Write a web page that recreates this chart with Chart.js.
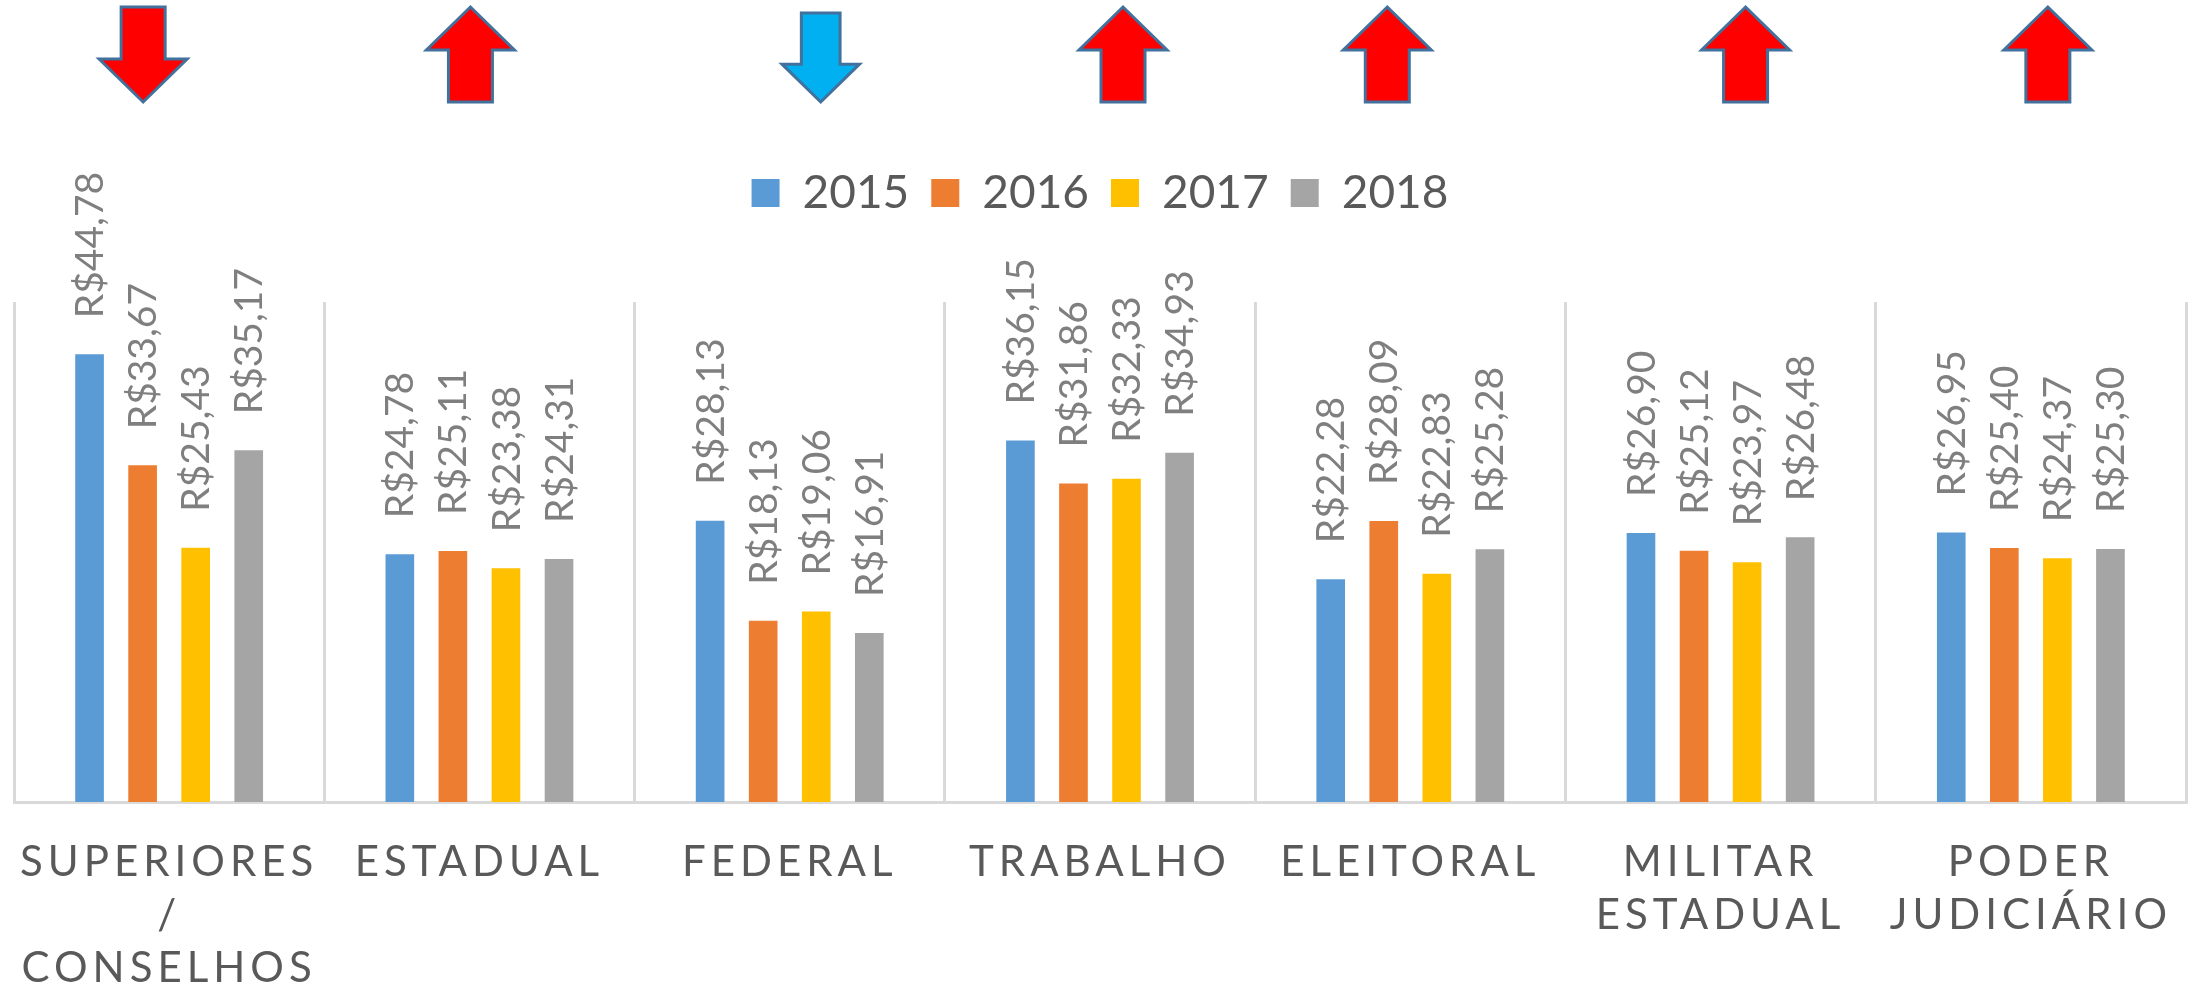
<!DOCTYPE html>
<html>
<head>
<meta charset="utf-8">
<script src="https://cdn.jsdelivr.net/npm/chart.js@4.4.0/dist/chart.umd.min.js"></script>
<style>
    body { margin: 0; background: #fff; }
    #wrap { width: 2200px; height: 983px; }
</style>
</head>
<body>
<div id="wrap"><canvas id="grafico"></canvas></div>
<script>
const categorias = [['SUPERIORES', '/', 'CONSELHOS'], ['ESTADUAL'], ['FEDERAL'], ['TRABALHO'], ['ELEITORAL'], ['MILITAR', 'ESTADUAL'], ['PODER', 'JUDICIÁRIO']];
const anos = ['2015', '2016', '2017', '2018'];
const valores2015 = [44.78, 24.78, 28.13, 36.15, 22.28, 26.90, 26.95];
const valores2016 = [33.67, 25.11, 18.13, 31.86, 28.09, 25.12, 25.40];
const valores2017 = [25.43, 23.38, 19.06, 32.33, 22.83, 23.97, 24.37];
const valores2018 = [35.17, 24.31, 16.91, 34.93, 25.28, 26.48, 25.30];
const setas = ['baixo', 'cima', 'baixo', 'cima', 'cima', 'cima', 'cima'];
const corSetas = ['#FF0000', '#FF0000', '#00B0F0', '#FF0000', '#FF0000', '#FF0000', '#FF0000'];

const cores = ['#5B9BD5', '#ED7D31', '#FFC000', '#A5A5A5'];
// as setas foram coladas a mao, nao ficam bem no centro da categoria
const desvioSetas = [-26, -9, 31, 23, -23, 25, 17];
const escalaSetas = [1, 1, 0.88, 1, 1, 1, 1];

function desenhaSeta(ctx, cx, dir, cor, k) {
    const topo = 7 + (1 - k) * 50, base = 102;
    const larg = 88 * k / 2, haste = 44 * k / 2, cab = 43 * k;
    ctx.beginPath();
    if (dir === 'cima') {
        ctx.moveTo(cx, topo);
        ctx.lineTo(cx + larg, topo + cab);
        ctx.lineTo(cx + haste, topo + cab);
        ctx.lineTo(cx + haste, base);
        ctx.lineTo(cx - haste, base);
        ctx.lineTo(cx - haste, topo + cab);
        ctx.lineTo(cx - larg, topo + cab);
    } else {
        ctx.moveTo(cx, base);
        ctx.lineTo(cx + larg, base - cab);
        ctx.lineTo(cx + haste, base - cab);
        ctx.lineTo(cx + haste, topo);
        ctx.lineTo(cx - haste, topo);
        ctx.lineTo(cx - haste, base - cab);
        ctx.lineTo(cx - larg, base - cab);
    }
    ctx.closePath();
    ctx.fillStyle = cor;
    ctx.fill();
    ctx.lineWidth = 3;
    ctx.strokeStyle = '#41719C';
    ctx.stroke();
}

const extras = {
    id: 'extras',
    afterDatasetsDraw(chart) {
        const ctx = chart.ctx;
        ctx.save();
        ctx.font = '39px Lato';
        ctx.fillStyle = '#7F7F7F';
        ctx.textAlign = 'left';
        ctx.textBaseline = 'middle';
        chart.data.datasets.forEach((ds, i) => {
            chart.getDatasetMeta(i).data.forEach((bar, j) => {
                const txt = 'R$' + ds.data[j].toFixed(2).replace('.', ',');
                ctx.save();
                ctx.translate(bar.x + 1, bar.y - 36);
                ctx.rotate(-Math.PI / 2);
                ctx.fillText(txt, 0, 0);
                ctx.restore();
            });
        });
        ctx.restore();
        // rotulos do eixo x vem depois (ticks z: 1), com letras espacadas
        ctx.letterSpacing = '5px';
    },
    afterDraw(chart) {
        const ctx = chart.ctx;
        ctx.letterSpacing = '0px';
        const x = chart.scales.x;
        ctx.save();
        setas.forEach((dir, i) => {
            desenhaSeta(ctx, x.getPixelForValue(i) + desvioSetas[i], dir, corSetas[i], escalaSetas[i]);
        });
        ctx.restore();
    }
};

const dados = {
    labels: categorias,
    datasets: [
        { label: anos[0], data: valores2015, backgroundColor: cores[0] },
        { label: anos[1], data: valores2016, backgroundColor: cores[1] },
        { label: anos[2], data: valores2017, backgroundColor: cores[2] },
        { label: anos[3], data: valores2018, backgroundColor: cores[3] }
    ]
};

const config = {
    type: 'bar',
    data: dados,
    options: {
        responsive: true,
        maintainAspectRatio: false,
        animation: false,
        categoryPercentage: 0.684,
        barPercentage: 0.54,
        layout: { padding: { top: 148, left: 14, right: 14, bottom: 0 } },
        plugins: {
            legend: {
                position: 'top',
                labels: {
                    font: { size: 46, family: 'Lato' },
                    color: '#595959',
                    boxWidth: 28,
                    boxHeight: 28,
                    padding: 22
                }
            },
            title: {
                display: true,
                text: '',
                weight: 500,
                font: { size: 10, lineHeight: 1 },
                padding: { top: 0, bottom: 66 }
            },
            tooltip: { enabled: false }
        },
        scales: {
            x: {
                grid: { color: '#D9D9D9', lineWidth: 3, drawTicks: false, offset: true },
                border: { color: '#D9D9D9', width: 3 },
                ticks: {
                    font: { size: 42, family: 'Lato', lineHeight: 1.26 },
                    color: '#595959',
                    padding: 34,
                    autoSkip: false,
                    maxRotation: 0,
                    z: 1
                },
                afterFit(s) { s.height = 181; }
            },
            y: { display: false, min: 0, max: 50 }
        }
    },
    plugins: [extras]
};

const grafico = new Chart(document.querySelector('#grafico'), config);
</script>
</body>
</html>
